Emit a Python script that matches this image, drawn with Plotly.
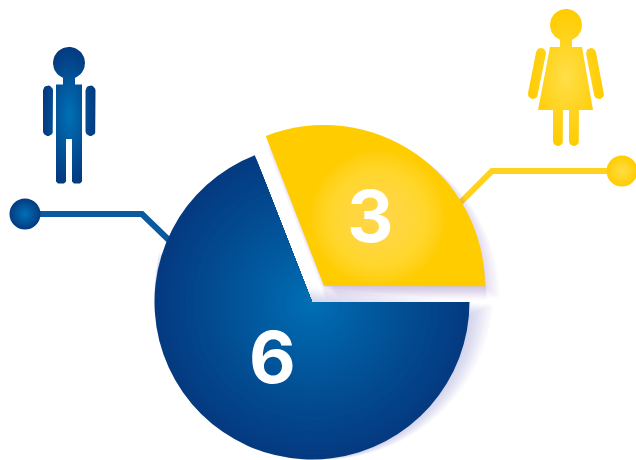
import numpy as np
import plotly.graph_objects as go

# Data
categories = ["Men", "Women"]
counts = [6, 3]
sector_degrees = [248.7, 111.3]   # measured sweep of each slice
colors_center = ["#0071b6", "#ffde48"]
colors_edge = ["#043a80", "#ffcc00"]

W, H = 636, 460
fig = go.Figure()


def mix(a, b, t):
    a = [int(a[i:i + 2], 16) for i in (1, 3, 5)]
    b = [int(b[i:i + 2], 16) for i in (1, 3, 5)]
    return "rgb(%d,%d,%d)" % tuple(round(x + (y - x) * t) for x, y in zip(a, b))


def dom(cx, cy, r):
    return dict(x=[max(0, (cx - r) / W), min(1, (cx + r) / W)],
                y=[max(0, 1 - (cy + r) / H), min(1, 1 - (cy - r) / H)])


def sector(idx, cx, cy, r, rotation, color, sweep=None):
    sweep = sector_degrees[idx] if sweep is None else sweep
    fig.add_trace(go.Pie(values=[sweep, 360 - sweep], labels=[categories[idx], "rest"],
                         sort=False, direction="clockwise", rotation=rotation,
                         domain=dom(cx, cy, r), textinfo="none", hoverinfo="skip",
                         showlegend=False,
                         marker=dict(colors=[color, "rgba(0,0,0,0)"], line=dict(width=0))))


def capsule(x0, y0, x1, y1, hw, n=10):
    """Rounded bar outline between two end centres."""
    ang = np.arctan2(y1 - y0, x1 - x0)
    a1 = np.linspace(ang + np.pi / 2, ang + 3 * np.pi / 2, n)
    a2 = np.linspace(ang - np.pi / 2, ang + np.pi / 2, n)
    xs = list(x0 + hw * np.cos(a1)) + list(x1 + hw * np.cos(a2))
    ys = list(y0 + hw * np.sin(a1)) + list(y1 + hw * np.sin(a2))
    return xs + [xs[0]], ys + [ys[0]]


def disc(cx, cy, r, n=48):
    a = np.linspace(0, 2 * np.pi, n)
    return list(cx + r * np.cos(a)), list(cy + r * np.sin(a))


def icon(parts, idx):
    xs, ys = [], []
    for px, py in parts:
        xs += list(px) + [None]
        ys += list(py) + [None]
    fig.add_trace(go.Scatter(x=xs, y=ys, mode="lines", fill="toself", line=dict(width=0),
                             fillgradient=dict(type="radial",
                                               colorscale=[[0, colors_center[idx]], [1, colors_edge[idx]]]),
                             hoverinfo="skip", showlegend=False))


def connector(xs, ys, dot, idx, line_color):
    fig.add_trace(go.Scatter(x=xs, y=ys, mode="lines", line=dict(color=line_color, width=6),
                             hoverinfo="skip", showlegend=False))
    fig.add_trace(go.Scatter(x=[dot[0]], y=[dot[1]], mode="markers", hoverinfo="skip", showlegend=False,
                             marker=dict(size=31, color=colors_edge[idx], line=dict(width=0),
                                         gradient=dict(type="radial", color=colors_center[idx]))))


# decorations drawn on a hidden pixel axis
connector([40, 142, 175], [214, 214, 246], (25, 214), 0, "#0a5a9f")
connector([622, 492, 455], [171, 171, 208], (622, 171), 1, "#ffd21e")

# man
man = [disc(69, 63, 16),
       ([63, 75, 75, 63, 63], [70, 70, 90, 90, 70]),
       ([56, 82, 82, 80, 74, 72, 72, 66, 66, 64, 58, 56, 56],
        [84.5, 84.5, 181.5, 183.5, 183.5, 181.5, 139, 139, 181.5, 183.5, 183.5, 181.5, 84.5]),
       capsule(48, 90.5, 48, 131, 5),
       capsule(90.5, 90.5, 90.5, 131, 5)]
icon(man, 0)

# woman
woman = [disc(566, 25, 16),
         ([560, 572, 572, 560, 560], [35, 35, 50, 50, 35]),
         ([550, 582, 593, 538, 550], [47, 47, 110, 110, 47]),
         capsule(558, 108, 558, 141, 5),
         capsule(574, 108, 574, 141, 5),
         capsule(541, 53, 533, 94, 5),
         capsule(591, 53, 599, 94, 5)]
icon(woman, 1)

# soft shadows: the same slice repeated with small offsets
for d in np.linspace(1, 16, 7):
    sector(1, 324 + d * 0.9, 286 + d * 0.7, 161, -21.2, "rgba(120,100,190,0.03)")
for d in np.linspace(1, 15, 7):
    sector(1, 324 + d * 0.15, 286 + d, 161, -21.2, "rgba(120,100,190,0.025)")
for e in np.linspace(0, 12, 10):
    sector(0, 312 + e, 302 - e, 157.5 + e, 95, "rgba(120,100,190,0.035)", sweep=188)

# blue slice, radial shading from the apex
R0 = 157.5
for t in np.linspace(1, 0.03, 36):
    sector(0, 312, 302, R0 * t, 90, mix(colors_center[0], colors_edge[0], t ** 0.9))

# yellow slice
sector(1, 324, 286, 161, -21.2, colors_edge[1])

# glow inside the yellow slice
shapes = []
for r in np.linspace(68, 4, 32):
    shapes.append(dict(type="circle", xref="x", yref="y", x0=378 - r, x1=378 + r, y0=218 - r, y1=218 + r,
                       fillcolor="rgba(255,226,90,0.07)", line=dict(width=0), layer="above"))

annotations = [
    dict(x=272, y=356, text=str(counts[0]), showarrow=False, xref="x", yref="y",
         font=dict(family="Inter", size=72, color="white", weight=700)),
    dict(x=370, y=215, text=str(counts[1]), showarrow=False, xref="x", yref="y",
         font=dict(family="Inter", size=72, color="white", weight=700)),
]

fig.update_layout(width=W, height=H, margin=dict(l=0, r=0, t=0, b=0), autosize=False,
                  paper_bgcolor="white", plot_bgcolor="white", showlegend=False,
                  shapes=shapes, annotations=annotations,
                  xaxis=dict(range=[0, W], visible=False, fixedrange=True),
                  yaxis=dict(range=[H, 0], visible=False, fixedrange=True))
fig.write_html("out.html", config=dict(displayModeBar=False),
               post_script="document.body.style.margin='0';document.documentElement.style.overflow='hidden';")
